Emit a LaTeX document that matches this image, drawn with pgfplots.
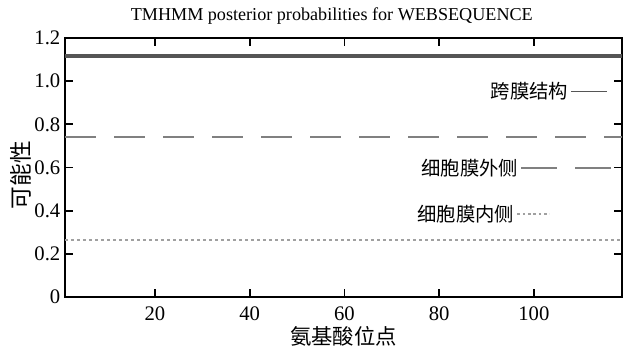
\documentclass[border=0pt]{standalone}
\usepackage{pgfplots}
\pgfplotsset{compat=1.18}
\usepackage{fontspec}
\setmainfont{Liberation Serif}
\newfontfamily\cjk{Noto Sans CJK SC}
\definecolor{solidc}{HTML}{555555}
\definecolor{dashc}{HTML}{808080}
\definecolor{dotc}{HTML}{A0A0A0}
\pgfplotsset{
  common/.style={scale only axis, width=417.75pt, height=194.25pt,
    xmin=1, xmax=118.6, ymin=0, ymax=1.2},
  lgd/.style={legend style={draw=none, fill=none, inner sep=0pt, outer sep=0pt,
    at={#1}, anchor=east, font=\cjk\fontsize{14.5}{16}\selectfont,
    /tikz/every even column/.append style={column sep=5pt}},
    legend cell align=right, legend plot pos=right},
}
\begin{document}
\begin{tikzpicture}
\path[use as bounding box] (-48.75pt,-42pt) rectangle (418.5pt,222.75pt);
\begin{axis}[common,
  xtick={20,40,60,80,100},
  ytick={0,0.2,0.4,0.6,0.8,1.0,1.2},
  yticklabels={0,0.2,0.4,0.6,0.8,1.0,1.2},
  tick align=inside, major tick length=6pt,
  tick style={black, line width=1.3pt},
  axis line style={black, line width=1.5pt},
  /pgf/number format/assume math mode=true,
  ticklabel style={font=\fontsize{15.5}{16}\selectfont},
  xticklabel style={yshift=-4pt},
  title={TMHMM posterior probabilities for WEBSEQUENCE},
  title style={at={(axis description cs:0.479,1)}, anchor=base, yshift=7pt,
    font=\fontsize{13.6}{15}\selectfont},
  xlabel={\cjk 氨基酸位点},
  xlabel style={at={(axis description cs:0.5,-0.15)}, anchor=center,
    font=\fontsize{16}{17}\selectfont},
  ylabel={\cjk 可能性},
  ylabel style={at={(axis description cs:-0.08,0.47)}, anchor=center,
    font=\fontsize{17}{18}\selectfont},
  lgd={(axis description cs:0.975,0.793)},
]
\addplot[solidc, line width=3pt, forget plot] coordinates {(1,1.118) (118.6,1.118)};
\addplot[dashc, line width=1.5pt, dash pattern=on 23.25pt off 13.5pt, forget plot] coordinates {(1,0.741) (118.6,0.741)};
\addplot[dotc, line width=1.2pt, dash pattern=on 2.25pt off 2.25pt, forget plot] coordinates {(1,0.264) (118.6,0.264)};
\addlegendimage{legend image code/.code={\draw[solidc, line width=0.9pt] (0pt,0pt) -- (27pt,0pt);}}
\addlegendentry{跨膜结构}
\end{axis}
\begin{axis}[common, hide axis,
  lgd={(axis description cs:0.981,0.498)}]
\addlegendimage{legend image code/.code={\draw[dashc, line width=1pt, dash pattern=on 27pt off 13.5pt] (0pt,0pt) -- (67pt,0pt);}}
\addlegendentry{细胞膜外侧}
\end{axis}
\begin{axis}[common, hide axis,
  lgd={(axis description cs:0.871,0.32)}]
\addlegendimage{legend image code/.code={\draw[dotc, line width=1pt, dash pattern=on 2pt off 2pt] (0pt,0pt) -- (24pt,0pt);}}
\addlegendentry{细胞膜内侧}
\end{axis}
\end{tikzpicture}
\end{document}
